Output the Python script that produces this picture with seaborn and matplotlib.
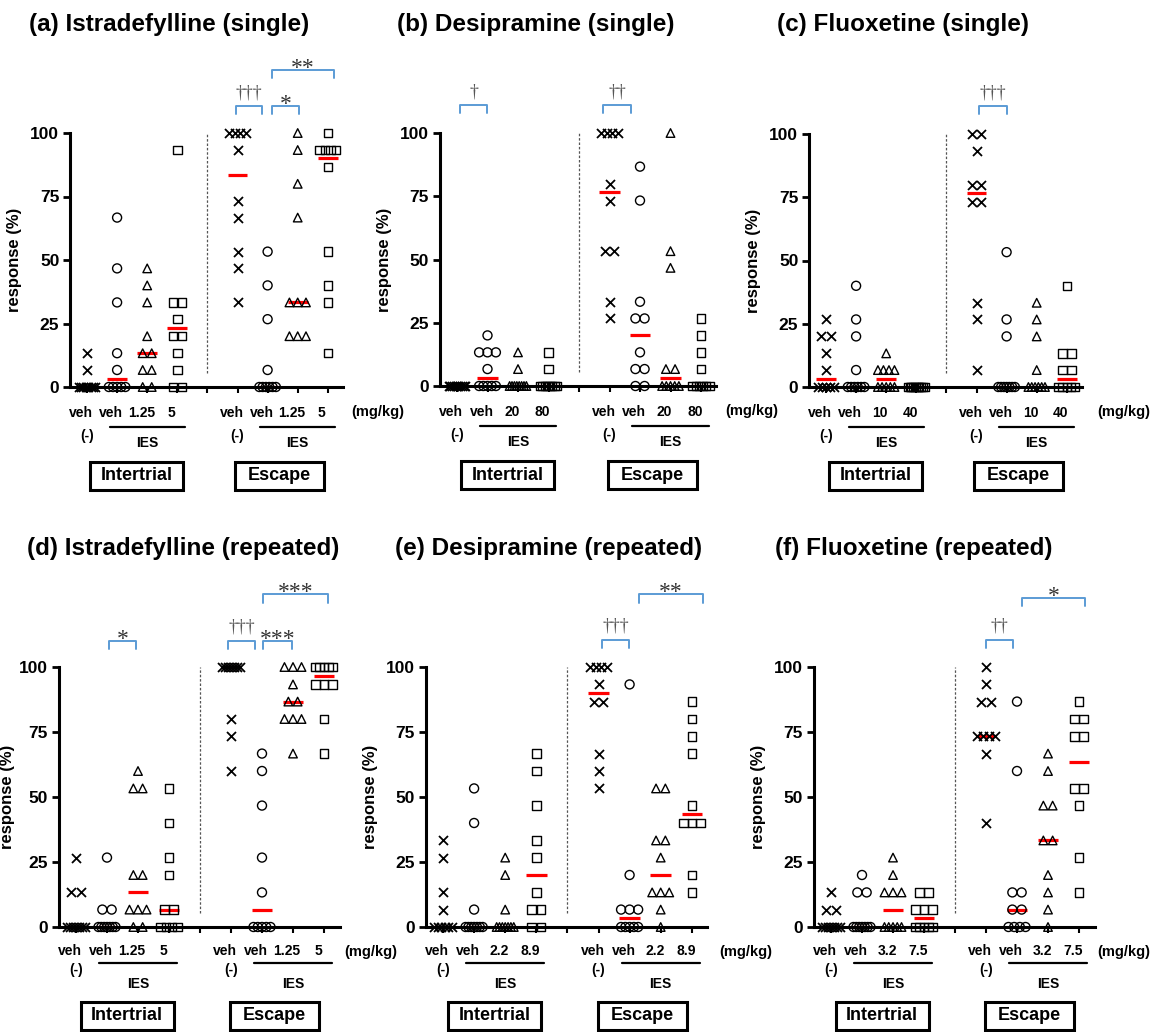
import numpy as np
import pandas as pd
import seaborn as sns
import matplotlib.pyplot as plt
from matplotlib.patches import Rectangle
from matplotlib.transforms import ScaledTranslation

# response (%) per rat, groups: veh(-), veh, dose1, dose2 ; values are k/15 of trials
ist_single_intertrial = [[13.3, 6.7, 0, 0, 0, 0, 0, 0, 0, 0],
                         [66.7, 46.7, 33.3, 13.3, 6.7, 0, 0, 0, 0, 0],
                         [46.7, 40, 33.3, 20, 13.3, 13.3, 6.7, 6.7, 0, 0],
                         [93.3, 33.3, 33.3, 26.7, 20, 20, 13.3, 6.7, 0, 0]]
ist_single_escape = [[100, 100, 100, 100, 93.3, 73.3, 66.7, 53.3, 46.7, 33.3],
                     [53.3, 40, 26.7, 6.7, 0, 0, 0, 0, 0, 0],
                     [100, 93.3, 80, 66.7, 33.3, 33.3, 33.3, 20, 20, 20],
                     [100, 93.3, 93.3, 93.3, 93.3, 86.7, 53.3, 40, 33.3, 13.3]]
des_single_intertrial = [[0, 0, 0, 0, 0, 0, 0, 0, 0, 0],
                         [20, 13.3, 13.3, 13.3, 6.7, 0, 0, 0, 0, 0],
                         [13.3, 6.7, 0, 0, 0, 0, 0, 0, 0, 0],
                         [13.3, 6.7, 0, 0, 0, 0, 0, 0, 0, 0]]
des_single_escape = [[100, 100, 100, 100, 80, 73.3, 53.3, 53.3, 33.3, 26.7],
                     [86.7, 73.3, 33.3, 26.7, 26.7, 13.3, 6.7, 6.7, 0, 0],
                     [100, 53.3, 46.7, 6.7, 6.7, 0, 0, 0, 0, 0],
                     [26.7, 20, 13.3, 6.7, 0, 0, 0, 0, 0, 0]]
flu_single_intertrial = [[26.7, 20, 20, 13.3, 6.7, 0, 0, 0, 0, 0],
                         [40, 26.7, 20, 6.7, 0, 0, 0, 0, 0, 0],
                         [13.3, 6.7, 6.7, 6.7, 6.7, 0, 0, 0, 0, 0],
                         [0, 0, 0, 0, 0, 0, 0, 0, 0, 0]]
flu_single_escape = [[100, 100, 93.3, 80, 80, 73.3, 73.3, 33.3, 26.7, 6.7],
                     [53.3, 26.7, 20, 0, 0, 0, 0, 0, 0, 0],
                     [33.3, 26.7, 20, 6.7, 0, 0, 0, 0, 0, 0],
                     [40, 13.3, 13.3, 6.7, 6.7, 0, 0, 0, 0, 0]]
ist_rep_intertrial = [[26.7, 13.3, 13.3, 0, 0, 0, 0, 0, 0, 0],
                      [26.7, 6.7, 6.7, 0, 0, 0, 0, 0, 0, 0],
                      [60, 53.3, 53.3, 20, 20, 6.7, 6.7, 6.7, 0, 0],
                      [53.3, 40, 26.7, 20, 6.7, 6.7, 0, 0, 0, 0]]
ist_rep_escape = [[100, 100, 100, 100, 100, 100, 100, 80, 73.3, 60],
                  [66.7, 60, 46.7, 26.7, 13.3, 0, 0, 0, 0, 0],
                  [100, 100, 100, 93.3, 86.7, 86.7, 80, 80, 80, 66.7],
                  [100, 100, 100, 100, 100, 93.3, 93.3, 93.3, 80, 66.7]]
des_rep_intertrial = [[33.3, 26.7, 13.3, 6.7, 0, 0, 0, 0, 0, 0],
                      [53.3, 40, 6.7, 0, 0, 0, 0, 0, 0, 0],
                      [26.7, 20, 6.7, 0, 0, 0, 0, 0, 0, 0],
                      [66.7, 60, 46.7, 33.3, 26.7, 13.3, 6.7, 6.7, 0, 0]]
des_rep_escape = [[100, 100, 100, 100, 93.3, 86.7, 86.7, 66.7, 60, 53.3],
                  [93.3, 20, 6.7, 6.7, 6.7, 0, 0, 0, 0, 0],
                  [53.3, 53.3, 33.3, 33.3, 26.7, 13.3, 13.3, 13.3, 6.7, 0],
                  [86.7, 80, 73.3, 66.7, 46.7, 40, 40, 40, 20, 13.3]]
flu_rep_intertrial = [[13.3, 6.7, 6.7, 0, 0, 0, 0, 0, 0, 0],
                      [20, 13.3, 13.3, 0, 0, 0, 0, 0, 0, 0],
                      [26.7, 20, 13.3, 13.3, 13.3, 0, 0, 0, 0, 0],
                      [13.3, 13.3, 6.7, 6.7, 6.7, 0, 0, 0, 0, 0]]
flu_rep_escape = [[100, 93.3, 86.7, 86.7, 73.3, 73.3, 73.3, 73.3, 66.7, 40],
                  [86.7, 60, 13.3, 13.3, 6.7, 6.7, 0, 0, 0, 0],
                  [66.7, 60, 46.7, 46.7, 33.3, 33.3, 20, 13.3, 6.7, 0],
                  [86.7, 80, 80, 73.3, 73.3, 53.3, 53.3, 46.7, 26.7, 13.3]]

# red bars (medians), 4 intertrial then 4 escape groups
medians_a = [0, 3.3, 13.3, 23.3, 83.3, 0, 33.3, 90]
medians_b = [0, 3.3, 0, 0, 76.7, 20, 3.3, 0]
medians_c = [3.3, 0, 3.3, 0, 76.7, 0, 0, 3.3]
medians_d = [0, 0, 13.3, 6.7, 100, 6.7, 86.7, 96.7]
medians_e = [0, 0, 0, 20, 90, 3.3, 20, 43.3]
medians_f = [0, 0, 6.7, 3.3, 73.3, 6.7, 33.3, 63.3]

titles = ["(a) Istradefylline (single)", "(b) Desipramine (single)", "(c) Fluoxetine (single)",
          "(d) Istradefylline (repeated)", "(e) Desipramine (repeated)", "(f) Fluoxetine (repeated)"]
doses = [["1.25", "5"], ["20", "80"], ["10", "40"], ["1.25", "5"], ["2.2", "8.9"], ["3.2", "7.5"]]

# significance marks: (x from, x to, level, text)
sig_a = [(4.95, 5.81, 110.5, "†††"), (6.15, 7.04, 110.5, "*"), (6.15, 8.21, 124.8, "**")]
sig_b = [(0.1, 0.98, 111, "†"), (4.79, 5.7, 111, "††")]
sig_c = [(5.08, 6.01, 111, "†††")]
sig_d = [(1.06, 1.94, 110, "*"), (4.9, 5.77, 110, "†††"), (6.03, 6.97, 110, "***"), (6.03, 8.13, 128, "***")]
sig_e = [(5.11, 5.98, 110.4, "†††"), (6.3, 8.36, 128, "**")]
sig_f = [(5.0, 5.87, 110.5, "††"), (6.16, 8.2, 126.5, "*")]

sns.set_style("ticks")
plt.rcParams['font.family'] = ['Liberation Sans', 'DejaVu Sans']
plt.rcParams['text.color'] = 'black'
plt.rcParams['axes.labelcolor'] = 'black'

W, H = 1151, 1032
fig = plt.figure(figsize=(W / 100, H / 100), dpi=100)

markers = ['x', 'o', '^', 's']
slots = [0, 1, 2, 3, 5, 6, 7, 8]


def spread(vals):
    # side by side offsets for equal values
    vals = np.asarray(vals, float)
    out = np.zeros(len(vals))
    for v in np.unique(vals):
        idx = np.where(vals == v)[0]
        k = len(idx)
        if k > 1:
            step = min(0.3, 0.55 / (k - 1))
            out[idx] = (np.arange(k) - (k - 1) / 2) * step
    return out


def draw_panel(geo, title, dose, inter, esc, med, sig):
    slot0, sp, y100, y0, tx, ty, lab_pad, offs, mg_x = geo
    left = slot0 - 0.55 * sp
    width = 9.05 * sp
    ax = fig.add_axes([left / W, 1 - y0 / H, width / W, (y0 - y100) / H])
    ppu = (y0 - y100) / 100.0

    def below(px):
        return -px / ppu

    rows = []
    for g, vals in enumerate(inter + esc):
        off = spread(vals)
        for v, o in zip(vals, off):
            rows.append({"x": slots[g] + o, "y": v, "m": markers[g % 4]})
    df = pd.DataFrame(rows)

    ax.hlines(med, np.array(slots) - 0.33, np.array(slots) + 0.33, color="#ff0000", lw=2.3, zorder=2.2)

    for m in markers:
        sub = df[df["m"] == m]
        if m == 'x':
            sns.scatterplot(data=sub, x="x", y="y", marker='x', color="black", s=42,
                            linewidth=1.3, ax=ax, clip_on=False, zorder=3, legend=False)
        else:
            sns.scatterplot(data=sub, x="x", y="y", marker=m, facecolor="none", edgecolor="black",
                            s=42 if m == 'o' else 38, linewidth=1.0, ax=ax, clip_on=False,
                            zorder=3, legend=False)

    ax.plot([4, 4], [5.5, 100], ls=(0, (2, 1.5)), color="#555555", lw=0.9)

    ax.set_xlim(-0.55, 8.5)
    ax.set_ylim(0, 100)
    sns.despine(ax=ax)
    for s in ["left", "bottom"]:
        ax.spines[s].set_linewidth(2.2)
        ax.spines[s].set_color("black")
    ax.set_yticks([0, 25, 50, 75, 100])
    ax.set_yticklabels(["0", "25", "50", "75", "100"], fontsize=12.5, fontweight="bold")
    ax.tick_params(axis='y', direction='out', length=5, width=2, pad=3, colors="black")
    ax.set_xticks(range(9))
    ax.set_xticklabels(["veh", "veh", dose[0], dose[1], "", "veh", "veh", dose[0], dose[1]],
                       fontsize=10, fontweight="bold")
    ax.tick_params(axis='x', direction='out', length=4, width=1.5, pad=lab_pad, colors="black")
    shift = ScaledTranslation(-6 / 100, 0, fig.dpi_scale_trans)
    for lab in ax.get_xticklabels():
        lab.set_transform(lab.get_transform() + shift)
    ax.set_xlabel("")
    ax.set_ylabel("response (%)", fontsize=12, fontweight="bold")
    ax.yaxis.set_label_coords(-min(48, left - 15) / width, 0.5)

    # group annotations under the axis
    minus_dy, line_dy, ies_dy = offs
    for s0 in (0, 5):
        ax.text(s0, below(minus_dy), "(-)", ha="center", va="center", fontsize=10, fontweight="bold")
        ax.plot([s0 + 0.75, s0 + 3.25], [below(line_dy)] * 2, color="black", lw=1.6, clip_on=False)
        ax.text(s0 + 2, below(ies_dy), "IES", ha="center", va="center", fontsize=10, fontweight="bold")
    ax.text(mg_x, below(25), "(mg/kg)", ha="center", va="center", fontsize=10.5, fontweight="bold")
    for cx, wpx, txt in ((1.65, 93, "Intertrial"), (6.4, 89, "Escape")):
        ax.add_patch(Rectangle((cx - wpx / 2 / sp, below(103)), wpx / sp, 28 / ppu, fill=False,
                               ec="black", lw=2.2, clip_on=False))
        ax.text(cx, below(89), txt, ha="center", va="center", fontsize=13, fontweight="bold")

    for x1, x2, lev, txt in sig:
        ax.plot([x1, x1, x2, x2], [lev - 3.2, lev, lev, lev - 3.2], color="#5b9bd5", lw=1.4, clip_on=False)
        if txt.startswith("†"):
            ax.text((x1 + x2) / 2, lev + 3.5, txt, ha="center", va="baseline", fontsize=13,
                    color="#555555", family="Liberation Serif")
        else:
            ax.text((x1 + x2) / 2, lev - 1.5, txt, ha="center", va="baseline", fontsize=17,
                    color="#333333", family="Liberation Serif")

    fig.text(tx / W, 1 - ty / H, title, ha="left", va="center", fontsize=17.5, fontweight="bold")


geos = [(87, 30.1, 133, 387, 29, 24, 10, (49, 40, 56), 9.65),
        (457, 30.5, 133, 386, 397, 24, 10, (49, 40, 56), 9.65),
        (826, 30.1, 134, 387, 777, 24, 10, (49, 40, 56), 9.9),
        (76, 31, 667, 927, 27, 548, 8, (43, 36, 57), 9.5),
        (443, 31.1, 667, 927, 395, 548, 8, (43, 36, 57), 9.75),
        (831, 31, 667, 927, 775, 548, 8, (43, 36, 57), 9.45)]
inters = [ist_single_intertrial, des_single_intertrial, flu_single_intertrial,
          ist_rep_intertrial, des_rep_intertrial, flu_rep_intertrial]
escs = [ist_single_escape, des_single_escape, flu_single_escape,
        ist_rep_escape, des_rep_escape, flu_rep_escape]
meds = [medians_a, medians_b, medians_c, medians_d, medians_e, medians_f]
sigs = [sig_a, sig_b, sig_c, sig_d, sig_e, sig_f]

for i in range(6):
    draw_panel(geos[i], titles[i], doses[i], inters[i], escs[i], meds[i], sigs[i])

fig.savefig("out.png", dpi=100)
